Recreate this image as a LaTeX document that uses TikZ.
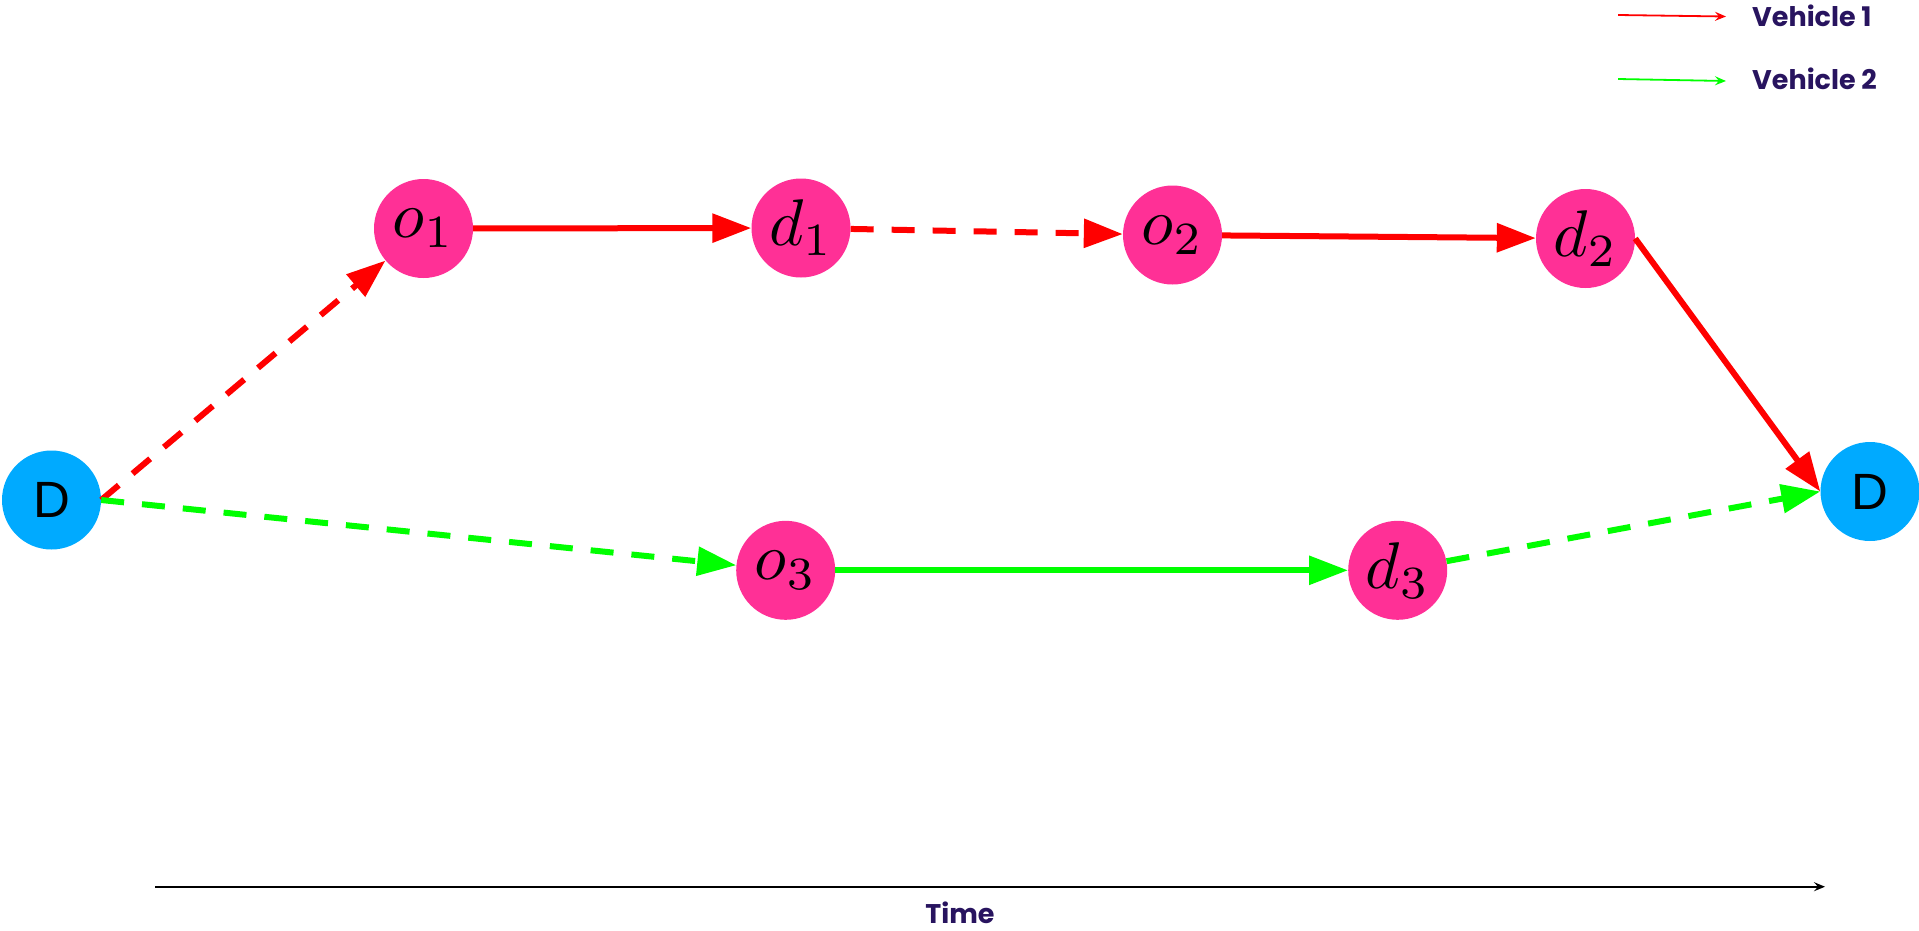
\documentclass[tikz,border=0pt]{standalone}
\usepackage{graphicx}
\usepackage{fontspec}
\newfontfamily\pop{Poppins}
\newfontfamily\lib{Liberation Sans}
\usetikzlibrary{arrows.meta}
\definecolor{pinkn}{RGB}{255,48,150}
\definecolor{bluen}{RGB}{0,170,255}
\definecolor{vred}{RGB}{255,0,0}
\definecolor{vgreen}{RGB}{0,255,0}
\definecolor{legtext}{RGB}{40,20,95}
\newcommand{\mlab}[1]{\scalebox{6.6}{$#1$}}
\begin{document}
\begin{tikzpicture}[x=1pt,y=-1pt,
  task/.style={circle,fill=pinkn,minimum size=99pt,inner sep=0pt},
  depot/.style={circle,fill=bluen,minimum size=99pt,inner sep=0pt,font=\lib\fontsize{51}{56}\selectfont},
  route/.style={line width=6pt,-{Triangle[length=39pt,width=28pt]}},
  gap/.style={dash pattern=on 23pt off 18pt},
  leg/.style={line width=1.8pt,-{Stealth[length=11pt,width=9pt,inset=4pt]}},
  legtxt/.style={anchor=west,text=legtext,font=\pop\bfseries\fontsize{27}{30}\selectfont,inner sep=0pt}
]
\useasboundingbox (0,0) rectangle (1919,930);
\node[depot] (Dl) at (51.5,500) {D};
\node[depot] (Dr) at (1870,491.5) {D};
\node[task] (o1) at (423.5,228.5) {\mlab{o_1}};
\node[task] (d1) at (801,228) {\mlab{d_1}};
\node[task] (o2) at (1172.5,235) {\mlab{o_2}};
\node[task] (d2) at (1585.5,238.5) {\mlab{d_2}};
\node[task] (o3) at (785.7,570.3) {\mlab{o_3}};
\node[task] (d3) at (1397.7,570.3) {\mlab{d_3}};
% vehicle 1
\draw[route,vred,gap] (Dl.east) -- (o1);
\draw[route,vred] (o1) -- (d1);
\draw[route,vred,gap] (d1) -- (o2);
\draw[route,vred] (o2) -- (d2);
\draw[route,vred] (d2.east) -- (Dr.west);
% vehicle 2
\draw[route,vgreen,gap] (Dl.east) -- (o3);
\draw[route,vgreen] (o3) -- (d3);
\draw[route,vgreen,gap] (d3) -- (Dr.west);
% legend
\coordinate (l1a) at (1618,15);
\coordinate (l1b) at (1726,16.5);
\coordinate (l2a) at (1618,79);
\coordinate (l2b) at (1726,81);
\draw[leg,vred] (l1a) -- (l1b);
\draw[leg,vgreen] (l2a) -- (l2b);
\node[legtxt] (v1) at (1752,16) {Vehicle 1};
\node[legtxt] (v2) at (1752,79) {Vehicle 2};
% time axis
\coordinate (t0) at (155,886.7);
\coordinate (t1) at (1825,886.7);
\draw[line width=1.8pt,-{Stealth[length=11pt,width=9pt,inset=4pt]}] (t0) -- (t1);
\node[text=legtext,font=\pop\bfseries\fontsize{27}{30}\selectfont,inner sep=0pt] (time) at (960,913) {Time};
\end{tikzpicture}
\end{document}
